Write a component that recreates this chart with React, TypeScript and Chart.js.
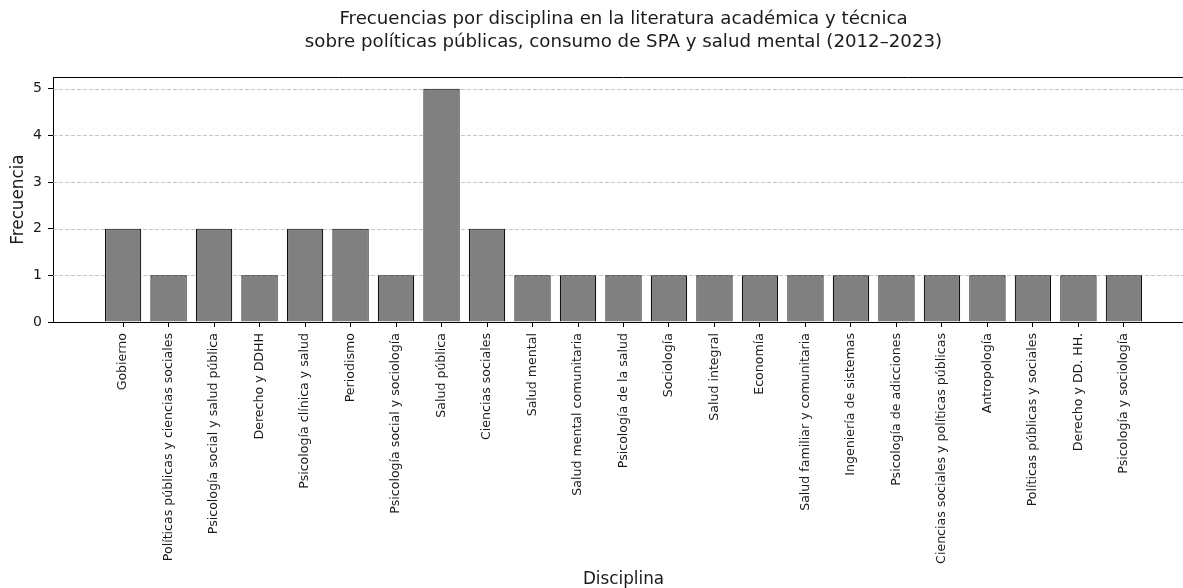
import React, { useEffect, useRef } from "react";
import { Chart, registerables } from "chart.js";

Chart.register(...registerables);

const titleLines = [
  "Frecuencias por disciplina en la literatura académica y técnica",
  "sobre políticas públicas, consumo de SPA y salud mental (2012–2023)",
];
const categories = [
  "Gobierno",
  "Políticas públicas y ciencias sociales",
  "Psicología social y salud pública",
  "Derecho y DDHH",
  "Psicología clínica y salud",
  "Periodismo",
  "Psicología social y sociología",
  "Salud pública",
  "Ciencias sociales",
  "Salud mental",
  "Salud mental comunitaria",
  "Psicología de la salud",
  "Sociología",
  "Salud integral",
  "Economía",
  "Salud familiar y comunitaria",
  "Ingeniería de sistemas",
  "Psicología de adicciones",
  "Ciencias sociales y políticas públicas",
  "Antropología",
  "Políticas públicas y sociales",
  "Derecho y DD. HH.",
  "Psicología y sociología",
];
const frequencies = [2, 1, 2, 1, 2, 2, 1, 5, 2, 1, 1, 1, 1, 1, 1, 1, 1, 1, 1, 1, 1, 1, 1];
const yTicks = [0, 1, 2, 3, 4, 5];
const xLabel = "Disciplina";
const yLabel = "Frecuencia";

const FONT = "'DejaVu Sans', sans-serif";

const spinePlugin = {
  id: "spinesAndGrid",
  beforeDatasetsDraw(chart: any) {
    const { ctx, chartArea, scales } = chart;
    ctx.save();
    ctx.strokeStyle = "rgba(170,170,170,0.75)";
    ctx.lineWidth = 0.9;
    ctx.setLineDash([4, 2]);
    for (const v of yTicks) {
      if (v === 0) continue;
      const y = Math.round(scales.y.getPixelForValue(v)) + 0.5;
      ctx.beginPath();
      ctx.moveTo(chartArea.left, y);
      ctx.lineTo(chartArea.right, y);
      ctx.stroke();
    }
    ctx.restore();
  },
  afterDraw(chart: any) {
    const { ctx, chartArea } = chart;
    ctx.save();
    ctx.strokeStyle = "#000";
    ctx.lineWidth = 1;
    ctx.beginPath();
    const t = Math.round(chartArea.top) + 0.5;
    ctx.moveTo(chartArea.left, t);
    ctx.lineTo(chartArea.right, t);
    ctx.moveTo(chartArea.right + 0.5, chartArea.top);
    ctx.lineTo(chartArea.right + 0.5, chartArea.bottom);
    ctx.stroke();
    ctx.restore();
  },
};

export default function App() {
  const ref = useRef<HTMLCanvasElement | null>(null);

  useEffect(() => {
    if (!ref.current) return;
    const data = frequencies.map((v, i) => ({ x: i, y: v }));
    const chart = new Chart(ref.current, {
      type: "bar",
      data: {
        datasets: [
          {
            data: data as any,
            backgroundColor: "#808080",
            borderColor: "#111",
            borderWidth: 1.2,
            barPercentage: 0.8,
            categoryPercentage: 1,
          },
        ],
      },
      options: {
        animation: false,
        responsive: false,
        devicePixelRatio: 1,
        layout: { padding: { left: 0, right: 16, top: 0, bottom: 0 } },
        plugins: {
          legend: { display: false },
          tooltip: { enabled: false },
          title: {
            display: true,
            text: titleLines,
            fullSize: false,
            color: "#1a1a1a",
            font: { family: FONT, size: 18.2, weight: "normal", lineHeight: "23px" },
            padding: { top: 8, bottom: 23 },
          },
        },
        scales: {
          x: {
            type: "linear",
            min: -1.54,
            max: 23.54,
            offset: false,
            afterBuildTicks(scale: any) {
              scale.ticks = categories.map((_, i) => ({ value: i }));
            },
            afterFit(scale: any) {
              scale.height = 266;
            },
            ticks: {
              autoSkip: false,
              minRotation: 90,
              maxRotation: 90,
              padding: 6,
              color: "#1a1a1a",
              font: { family: FONT, size: 12.6 },
              callback: (value: any) => categories[value as number] ?? "",
            },
            grid: {
              display: true,
              offset: false,
              drawOnChartArea: false,
              drawTicks: true,
              tickLength: 5,
              tickColor: "#000",
              tickWidth: 1,
            },
            border: { display: true, color: "#000", width: 1 },
            title: {
              display: true,
              text: xLabel,
              color: "#1a1a1a",
              font: { family: FONT, size: 16.8, lineHeight: "17px" },
              padding: { top: 0, bottom: 0 },
            },
          },
          y: {
            min: 0,
            max: 5.25,
            afterBuildTicks(scale: any) {
              scale.ticks = yTicks.map((v) => ({ value: v }));
            },
            afterFit(scale: any) {
              scale.width = 53;
            },
            ticks: {
              padding: 6,
              color: "#1a1a1a",
              font: { family: FONT, size: 14 },
              callback: (value: any) => String(value),
            },
            grid: {
              display: true,
              drawOnChartArea: false,
              drawTicks: true,
              tickLength: 5,
              tickColor: "#000",
              tickWidth: 1,
            },
            border: { display: true, color: "#000", width: 1 },
            title: {
              display: true,
              text: yLabel,
              color: "#1a1a1a",
              font: { family: FONT, size: 16.8, lineHeight: 1.2 },
              padding: { top: 9, bottom: 0 },
            },
          },
        },
      },
      plugins: [spinePlugin],
    });
    return () => chart.destroy();
  }, []);

  return (
    <div
      style={{
        position: "fixed",
        left: 0,
        top: 0,
        width: 1183,
        height: 588,
        overflow: "hidden",
        background: "#fff",
      }}
    >
      <canvas ref={ref} width={1210} height={588} style={{ width: 1210, height: 588, display: "block" }} />
    </div>
  );
}
